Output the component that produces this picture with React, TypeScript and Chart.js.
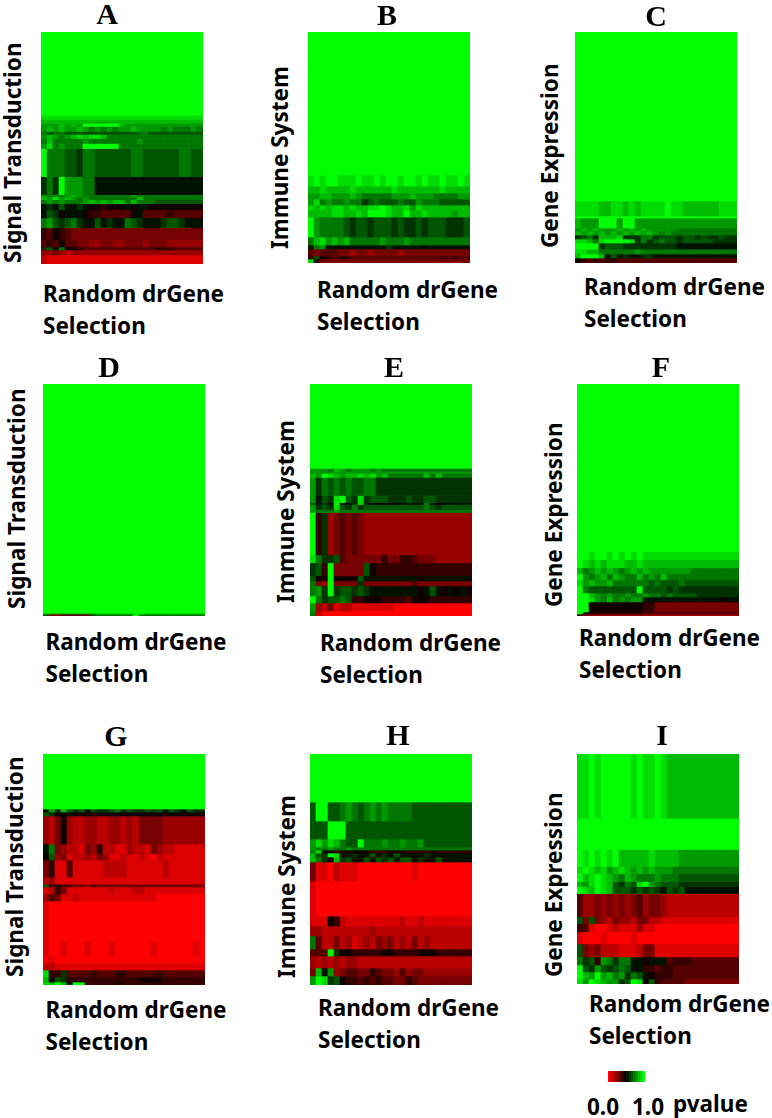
import React, { useEffect, useRef } from "react";
import { Chart, registerables } from "chart.js";

Chart.register(...registerables);

// Every heatmap row: a height and one p-value level (hex digit, 0 = p 0.0, f = p 1.0) per column.
// A row's last level repeats to the right edge.
const COLUMNS = 27;

const heightsA = [83, 4, 4, 3, 5, 3, 4, 5, 5, 28, 18, 2, 3, 4, 6, 8, 10, 12, 7, 3, 5, 9];
const cellsA = [
  "f", "e", "d",
  "cccdcdcffffffdccccccccccc",
  "cdcdccdcbcbcbccdccccbcbbbcb",
  "babbaaaaaaaaaaaabbaaaaaaaaa",
  "cdcbcdedeedbbbbbbbbbbbbbbbb",
  "bdbbbbbcbbbbbbbbcbbbbbbbbbb",
  "cebcbbbffffffbbbbbbbbbbbbbb",
  "fbbbaa9bbaaaaaabbaaaaaabbaa",
  "9b9fcccbb888888888888888888",
  "cbcbcdcbbbbbbbbcbbbbbbbbbbb",
  "dcecdcbcbbbbbbbbdbbbbbbbbbb",
  "bcbcbbbcdcdcddbdbbbaaaaaaaa",
  "898a88987767778788777777777",
  "8a9788876655555785555655555",
  "bca9ab988a8988ba98889aa9888",
  "6576544444444444444444444",
  "5657554433443344434443333",
  "9a8b776555555555555666555",
  "33432333333333333333",
  "2111",
];

const heightsB = [143, 11, 7, 6, 6, 5, 7, 20, 8, 4, 7, 3, 4];
const cellsB = [
  "f",
  "efeffeeefeefeffeffefeefeefe",
  "ddeddddeddddddedddddddedddd",
  "ccddcccdcbbbbbcccdcccbbbbcc",
  "cebcbbcbb9abaaabaacbbbaaaaa",
  "ededeededdeefeddecedddddddd",
  "ddddeeddedfffeddfddeddddcdd",
  "fcbbbba9aa9aaa9a99a9aaa999a",
  "bdecdcdbbbbbcbbbcbbbbbbbbbb",
  "8bc8888888888988888788888",
  "5455544344344443444444444",
  "6a765665555555555555556565",
  "e64444444444444444444",
];

const heightsC = [169, 15, 2, 10, 3, 4, 4, 4, 6, 5, 4, 5];
const cellsC = [
  "f",
  "eeeeddeededeeeefeeddddddeee",
  "f",
  "dcccfffcffcccccccccccccc",
  "cdcdcccdcdcdcccccbbbbbbbbb",
  "dcdcdcdcdcdcdcbcbbbbbbbbbb",
  "9ab9ddde999bb9aaa9aa9a99a99",
  "eedbeffffe9b9abaa9aaaaa9999",
  "ffff9aaa9999999998888",
  "eeddbbbbbbcbbbbbbbbbbbbbbbb",
  "dfffd8a8988998888888888888",
  "7656566555555555555",
];

const heightsD = [228, 1, 2];
const cellsD = [
  "f",
  "eddddddddeeeeeeefeeeeeeeeee",
  "a4455555abbbbbbfbbbbbbbbbbb",
];

const heightsE = [84, 3, 2, 4, 18, 7, 2, 5, 3, 42, 8, 13, 5, 5, 10, 7, 8, 5];
const cellsE = [
  "f",
  "cccbdcbcccbcbbbbbbbbbbbbbbb",
  "c",
  "dcfedcddedecdbbbbbbdbdbbbbb",
  "c9bababaabb9999999999999999",
  "c8a9efa9e9aaa999a99aa999999",
  "a898f889e8877788888b8788888",
  "c9a9ea9b9aaaaaaaaaaba9aaaaa",
  "cbbbcbbbbbbbbbbbbbbbbbbbb",
  "f69345454333333333333333333",
  "eb99a5444444644665444333333",
  "9a6f44444a76666666666666666",
  "a77f7777a888888888788888888",
  "b43f4444944444444544444444",
  "bc9f9aa9a98888888878a878787",
  "fb9aaba66777666657776666666",
  "c324122111111100000000000",
  "b2000",
];

const heightsF = [167, 8, 8, 6, 6, 6, 7, 4, 5, 10, 2, 2];
const cellsF = [
  "f",
  "ffeffefefefeeeeeeeeeeeeeeee",
  "fededeeeddedddddddddddddd",
  "dbcdcdcbcdcdcccccccbbbbbbb",
  "fcbcdbdcbbdbcbdbbbbbbbbbbb",
  "ecdccdbbbbbbabaaabaaaaaaaa",
  "fbaaaaaaaafaaaa9a99999999",
  "ffdcbcbbcbbcbbabaaaa999999",
  "ffecbdbcbcc888888888888878",
  "ff777777777664444444444444",
  "f77666666665555555555555",
  "6433333333333333",
];

const heightsG = [55, 3, 4, 28, 10, 6, 17, 7, 3, 7, 7, 40, 15, 7, 7, 7, 5, 3];
const cellsG = [
  "f",
  "8c9da9a8a99ab9a99a9a8a98a99",
  "a97787776777777777777777777",
  "324732233223323244443333333",
  "8b4322143622113221432211111",
  "7a3412232431121121021111111",
  "461151111122221111112111111",
  "23111111111111111111111",
  "a5655443544444444444444",
  "1264111111121112211111111",
  "3541121111111111111000000",
  "100000000000000000",
  "100100010001000000100000010",
  "010000000000000000000000000",
  "221111111111111111111",
  "e66955556555665555565555",
  "d7a966666666666677776666",
  "edfd8ff6666676666666666",
];

const heightsH = [48, 19, 18, 8, 3, 3, 4, 5, 19, 35, 10, 10, 13, 7, 12, 8, 9];
const cellsH = [
  "f",
  "affaabcbabcbcbbbbaaaaaaaaaa",
  "aaafffaaaaaaaaaaaaaaaaaaa",
  "cecedbaafbbbcbbcbbcaaaaaaaa",
  "cbbcbbcbbbbbbbbbbbbb",
  "be876777776667776666766666",
  "da9fe88988a898a88889888888",
  "db97d9a88a8a9a8aa8988a888",
  "411021110000000001000000000",
  "1000000000000",
  "111762111111111211211111111",
  "332222222232222222222222222",
  "b52242312324342324232222222",
  "555f977666667766667776666",
  "323232332222222222222222",
  "4d8c345544654435344333333",
  "cfe9a76656565544654444444",
];

const heightsI = [64, 31, 17, 7, 8, 5, 7, 23, 7, 8, 12, 13, 8, 7, 7, 5];
const cellsI = [
  "eefefffffefeefedddddddddddd",
  "f",
  "fefefefdddddeddddcccccccccc",
  "efedecdedcdcdcccbbbbbbbbbb",
  "fdefedcbdcbbbcbbbaaaaaaaaa",
  "dcefeda9baefcbaaa9999999",
  "fedfedaaa9a9a98a9a8888888",
  "533434343453443222222222",
  "a4a43243324422111111111",
  "651001211131100000000",
  "100010000100000000000",
  "a43422211124411111111",
  "b9a6cb9bb887888566655555555",
  "fa9ca9aba886656655555",
  "fdcfcdbc9ba87666555555",
  "ecfedcc9afe7a6555544444",
];

const heightsLegend = [1];
const cellsLegend = ["0123456789abcdef"];

const panelLetters = ["A", "B", "C", "D", "E", "F", "G", "H", "I"];
const pathways = [
  "Signal Transduction", "Immune System", "Gene Expression",
  "Signal Transduction", "Immune System", "Gene Expression",
  "Signal Transduction", "Immune System", "Gene Expression",
];
const xLabelLines = ["Random drGene", "Selection"];
const legendTicks = ["0.0", "1.0"];
const legendName = "pvalue";

const panelHeights = [heightsA, heightsB, heightsC, heightsD, heightsE, heightsF, heightsG, heightsH, heightsI];
const panelCells = [cellsA, cellsB, cellsC, cellsD, cellsE, cellsF, cellsG, cellsH, cellsI];

// Layout, in page pixels
const plotLeft = [41, 308, 575, 43, 310, 577, 43, 310, 577];
const plotTop = [32, 32, 32, 384, 384, 384, 754, 754, 754];
const plotBottom = [263.5, 263, 263, 616, 616, 616, 985, 985, 983.5];
const letterCx = [107, 387, 656, 109, 394, 661, 116, 398, 662];
const letterCapTop = [5, 6, 7, 358, 358, 358, 727, 726, 726];
const yLabelLeft = [5.5, 272.5, 542.5, 9.5, 278.5, 546.5, 7.5, 279.5, 546.5];
const yLabelStart = [263, 249, 248, 609, 603, 607, 977, 978, 977];
const xLabelLeft = [43, 317, 584, 45.5, 320, 579, 45.5, 318, 589];
const xLabelCapTop = [287, 283, 280, 635, 636, 631, 1003, 1001, 997];

const LABEL_FONT = '"Noto Sans", sans-serif';
const LABEL_SIZE = 22.5;
const LINE_GAP = 31.5;

function levelColor(ch: string): string {
  const p = parseInt(ch, 16) / 15;
  return p < 0.5 ? `rgb(${Math.round(255 * (1 - 2 * p))},0,0)` : `rgb(0,${Math.round(255 * (2 * p - 1))},0)`;
}

function Heat(props: { heights: number[]; cells: string[]; columns: number; left: number; top: number; width: number; height: number; blur: number }) {
  const ref = useRef<HTMLCanvasElement>(null);
  const { heights, cells, columns, left, top, width, height, blur } = props;
  useEffect(() => {
    if (!ref.current) return;
    const labels = Array.from({ length: columns }, (_, i) => String(i));
    const datasets = heights.map((h, r) => {
      const row = cells[r].padEnd(columns, cells[r][cells[r].length - 1]).slice(0, columns);
      return {
        data: labels.map(() => h),
        backgroundColor: row.split("").map(levelColor),
        borderWidth: 0,
        barPercentage: 1,
        categoryPercentage: 1,
      };
    });
    const chart = new Chart(ref.current, {
      type: "bar",
      data: { labels, datasets },
      options: {
        responsive: false,
        animation: false,
        layout: { padding: 0 },
        plugins: { legend: { display: false }, tooltip: { enabled: false } },
        scales: {
          x: { stacked: true, display: false },
          y: { stacked: true, display: false, reverse: true, min: 0, max: heights.reduce((a, b) => a + b, 0) },
        },
      },
    } as any);
    return () => chart.destroy();
  }, []);
  return (
    <canvas
      ref={ref}
      width={width}
      height={height}
      style={{ position: "absolute", left, top, width, height, filter: `blur(${blur}px)` }}
    />
  );
}

const abs = (left: number, top: number): React.CSSProperties => ({ position: "absolute", left, top, whiteSpace: "nowrap", color: "#000" });
const labelStyle = (left: number, capTop: number): React.CSSProperties => ({
  ...abs(left, capTop - 0.174 * LABEL_SIZE),
  font: `700 ${LABEL_SIZE}px/1 ${LABEL_FONT}`,
});

export default function App() {
  return (
    <div style={{ position: "absolute", left: 0, top: 0, width: 772, height: 1118, overflow: "hidden", background: "#fff" }}>
      {panelLetters.map((letter, i) => (
        <React.Fragment key={letter}>
          <Heat
            heights={panelHeights[i]}
            cells={panelCells[i]}
            columns={COLUMNS}
            left={plotLeft[i]}
            top={plotTop[i]}
            width={162}
            height={Math.round(plotBottom[i] - plotTop[i])}
            blur={0.5}
          />
          <div
            style={{
              ...abs(letterCx[i], letterCapTop[i] - 6),
              font: '700 30px/1 "Liberation Serif", serif',
              transform: "translateX(-50%)",
            }}
          >
            {letter}
          </div>
          <div
            style={{
              ...labelStyle(yLabelLeft[i] - 0.174 * LABEL_SIZE, yLabelStart[i]),
              top: yLabelStart[i],
              transformOrigin: "0 0",
              transform: "rotate(-90deg)",
            }}
          >
            {pathways[i]}
          </div>
          {xLabelLines.map((line, k) => (
            <div key={line} style={labelStyle(xLabelLeft[i], xLabelCapTop[i] + k * LINE_GAP)}>
              {line}
            </div>
          ))}
        </React.Fragment>
      ))}
      <Heat heights={heightsLegend} cells={cellsLegend} columns={16} left={608} top={1071} width={37} height={11} blur={0.3} />
      <div style={labelStyle(587, 1100)}>{legendTicks[0]}</div>
      <div style={labelStyle(632, 1100)}>{legendTicks[1]}</div>
      <div style={labelStyle(673, 1097)}>{legendName}</div>
    </div>
  );
}
